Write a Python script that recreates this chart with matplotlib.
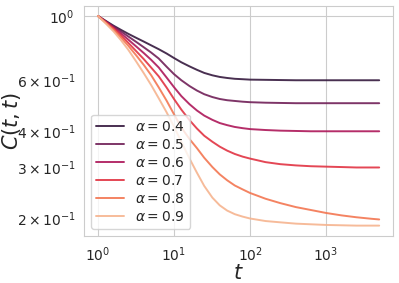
import matplotlib
matplotlib.use("Agg")
import matplotlib.pyplot as plt
import seaborn as sns

# values
t = [1, 1.25, 1.6, 2, 2.5, 3.2, 4, 5, 6.3, 8, 10, 12.5, 16, 20, 25, 32, 40, 50,
     63, 80, 100, 160, 250, 400, 630, 1000, 1600, 2500, 4000, 5000]
alphas = [0.4, 0.5, 0.6, 0.7, 0.8, 0.9]
C = {
    0.4: [1.0, 0.964, 0.926, 0.896, 0.868, 0.840, 0.816, 0.792, 0.768, 0.742,
          0.716, 0.692, 0.670, 0.652, 0.636, 0.624, 0.616, 0.611, 0.607, 0.605,
          0.603, 0.602, 0.601, 0.600, 0.600, 0.600, 0.600, 0.600, 0.600, 0.600],
    0.5: [1.0, 0.960, 0.920, 0.885, 0.850, 0.813, 0.780, 0.748, 0.713, 0.668,
          0.630, 0.600, 0.573, 0.553, 0.537, 0.525, 0.517, 0.512, 0.509, 0.506,
          0.504, 0.502, 0.501, 0.500, 0.500, 0.500, 0.500, 0.500, 0.500, 0.500],
    0.6: [1.0, 0.958, 0.913, 0.871, 0.829, 0.784, 0.745, 0.706, 0.664, 0.613,
          0.568, 0.529, 0.496, 0.472, 0.453, 0.438, 0.427, 0.420, 0.414, 0.410,
          0.407, 0.404, 0.402, 0.401, 0.400, 0.400, 0.400, 0.400, 0.400, 0.400],
    0.7: [1.0, 0.955, 0.906, 0.857, 0.808, 0.755, 0.710, 0.664, 0.619, 0.566,
          0.517, 0.475, 0.437, 0.409, 0.386, 0.368, 0.354, 0.343, 0.334, 0.327,
          0.322, 0.313, 0.308, 0.305, 0.303, 0.302, 0.301, 0.300, 0.300, 0.300],
    0.8: [1.0, 0.950, 0.897, 0.843, 0.790, 0.730, 0.678, 0.625, 0.567, 0.510,
          0.458, 0.412, 0.376, 0.350, 0.324, 0.301, 0.284, 0.271, 0.260, 0.252,
          0.245, 0.234, 0.226, 0.219, 0.214, 0.209, 0.205, 0.202, 0.1995, 0.1985],
    0.9: [1.0, 0.945, 0.885, 0.826, 0.765, 0.695, 0.635, 0.578, 0.520, 0.465,
          0.415, 0.368, 0.322, 0.288, 0.259, 0.236, 0.222, 0.213, 0.207, 0.203,
          0.200, 0.196, 0.194, 0.192, 0.191, 0.190, 0.1895, 0.189, 0.189, 0.189],
}

sns.set_style("whitegrid")
colors = sns.color_palette("rocket", len(alphas))

fig = plt.figure(figsize=(3.99, 2.83), dpi=100)
ax = fig.add_axes([0.2105, 0.166, 0.7745, 0.813])

for a, c in zip(alphas, colors):
    ax.plot(t, C[a], color=c, lw=1.4, alpha=0.9, label=r"$\alpha = %.1f$" % a)

ax.set_xscale("log")
ax.set_yscale("log")
ax.set_xlim(0.655, 7600)
ax.set_ylim(0.174, 1.083)
ax.tick_params(labelsize=10)
ax.set_xlabel(r"$t$", fontsize=15, labelpad=-1)
ax.set_ylabel(r"$C(t, t)$", fontsize=15, labelpad=-4)
ax.legend(loc="lower left", fontsize=10, labelspacing=0.28)

fig.savefig("out.png", dpi=100)
